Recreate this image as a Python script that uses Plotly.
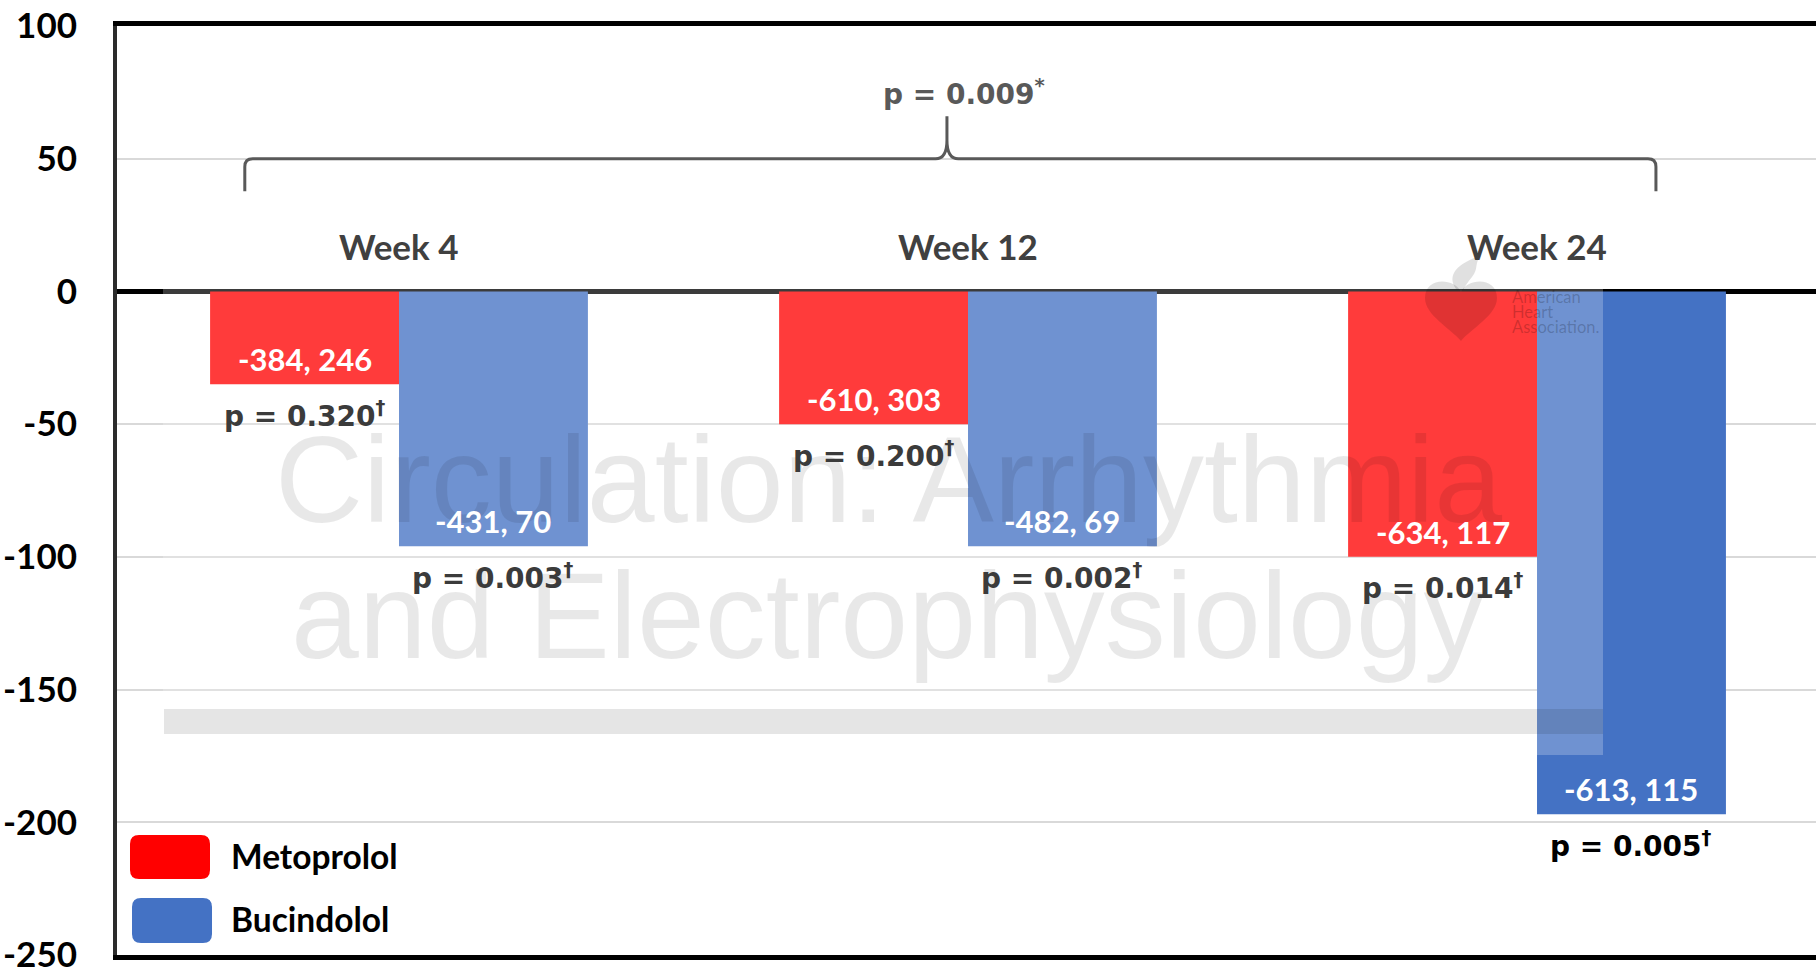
import plotly.graph_objects as go

# ---- data -------------------------------------------------------------
weeks = ["Week 4", "Week 12", "Week 24"]
week_pos = [0, 1, 2]
metoprolol = [-35, -50, -100]
bucindolol = [-96, -96, -197]
metoprolol_text = ["-384, 246", "-610, 303", "-634, 117"]
bucindolol_text = ["-431, 70", "-482, 69", "-613, 115"]
metoprolol_p = ["0.320", "0.200", "0.014"]
bucindolol_p = ["0.003", "0.002", "0.005"]
overall_p = "0.009"
y_ticks = [100, 50, 0, -50, -100, -150, -200, -250]

# ---- style ------------------------------------------------------------
RED = "#FF0000"
BLUE = "#4472C4"
BAR_W = 0.332
W, H = 1816, 974
L, R, T, B = 117, 0, 26, 19
LABEL_FONT = "Lato"
P_FONT = "DejaVu Sans"
WM_FONT = "Liberation Sans"


def to_paper(x, y):
    """pixel position on the page -> paper coordinates of the plot area"""
    return (x - L) / (W - L - R), (H - B - y) / (H - T - B)


def paper_path(cmds):
    """build an SVG path in paper units from pixel-space commands"""
    out = []
    for c, pts in cmds:
        seg = c
        for (x, y) in pts:
            px_, py_ = to_paper(x, y)
            seg += f" {px_:.5f},{py_:.5f}"
        out.append(seg)
    return " ".join(out) + " Z"


def rounded_rect(x0, y0, x1, y1, r):
    return paper_path([
        ("M", [(x0 + r, y0)]), ("L", [(x1 - r, y0)]), ("Q", [(x1, y0), (x1, y0 + r)]),
        ("L", [(x1, y1 - r)]), ("Q", [(x1, y1), (x1 - r, y1)]),
        ("L", [(x0 + r, y1)]), ("Q", [(x0, y1), (x0, y1 - r)]),
        ("L", [(x0, y0 + r)]), ("Q", [(x0, y0), (x0 + r, y0)]),
    ])


fig = go.Figure()
fig.add_trace(go.Bar(x=week_pos, y=metoprolol, width=BAR_W, offset=-BAR_W,
                     marker=dict(color=RED, line=dict(width=0)), name="Metoprolol",
                     showlegend=False, hoverinfo="skip"))
fig.add_trace(go.Bar(x=week_pos, y=bucindolol, width=BAR_W, offset=0,
                     marker=dict(color=BLUE, line=dict(width=0)), name="Bucindolol",
                     showlegend=False, hoverinfo="skip"))

ann = []
# journal watermark text
wx, _ = to_paper(888, 0)
ann.append(dict(x=wx, y=to_paper(0, 480)[1], xref="paper", yref="paper",
                text="Circulation: Arrhythmia", showarrow=False, xanchor="center",
                yanchor="middle", font=dict(family=WM_FONT, size=122, color="rgba(0,0,0,0.09)")))
ann.append(dict(x=wx, y=to_paper(0, 616)[1], xref="paper", yref="paper",
                text="and Electrophysiology", showarrow=False, xanchor="center",
                yanchor="middle", font=dict(family=WM_FONT, size=122, color="rgba(0,0,0,0.09)")))
# association logo wording
for i, word in enumerate(["American", "Heart", "Association."]):
    ax_, ay_ = to_paper(1510, 297 + 15 * i)
    ann.append(dict(x=ax_, y=ay_, xref="paper", yref="paper", text=word, showarrow=False,
                    xanchor="left", yanchor="middle",
                    font=dict(family=LABEL_FONT, size=16.5, color="rgba(0,0,0,0.2)")))

# week headings above the zero line
for xp, wk in zip(week_pos, weeks):
    ann.append(dict(x=xp, y=0, xref="x", yref="y", text=f"<b>{wk}</b>", showarrow=False,
                    xanchor="center", yanchor="middle", yshift=45,
                    font=dict(family=LABEL_FONT, size=35, color="#404040")))

# bar values and p-values
series = [
    (metoprolol, metoprolol_text, metoprolol_p, -BAR_W / 2),
    (bucindolol, bucindolol_text, bucindolol_p, BAR_W / 2),
]
for vals, texts, ps, off in series:
    for i, (xp, v) in enumerate(zip(week_pos, vals)):
        ann.append(dict(x=xp + off, y=v, xref="x", yref="y", text=f"<b>{texts[i]}</b>",
                        showarrow=False, xanchor="center", yanchor="middle", yshift=25,
                        font=dict(family=LABEL_FONT, size=31, color="white")))
        pcolor = "#000000" if v < -150 else "#3b3b3b"
        ann.append(dict(x=xp + off, y=v, xref="x", yref="y",
                        text=f"<b>p = {ps[i]}<sup>†</sup></b>",
                        showarrow=False, xanchor="center", yanchor="middle", yshift=-30,
                        font=dict(family=P_FONT, size=28, color=pcolor)))

# overall comparison
ann.append(dict(x=0.993, y=75, xref="x", yref="y", text=f"<b>p = {overall_p}<sup>*</sup></b>",
                showarrow=False, xanchor="center", yanchor="middle",
                font=dict(family=P_FONT, size=28, color="#595959")))

# legend
for label, ypix in [("Metoprolol", 856), ("Bucindolol", 919)]:
    lx, ly = to_paper(229, ypix)
    ann.append(dict(x=lx, y=ly, xref="paper", yref="paper", text=f"<b>{label}</b>",
                    showarrow=False, xanchor="left", yanchor="middle",
                    font=dict(family=LABEL_FONT, size=33.5, color="black")))

shapes = []
# white veil of the watermark layer and its grey rule
ox0, oy0 = to_paper(163, 755)
ox1, oy1 = to_paper(1603, 205)
shapes.append(dict(type="rect", xref="paper", yref="paper", x0=ox0, x1=ox1, y0=oy0, y1=oy1,
                   fillcolor="rgba(255,255,255,0.23)", line=dict(width=0), layer="above"))
bx0, by0 = to_paper(164, 734)
bx1, by1 = to_paper(1603, 709)
shapes.append(dict(type="rect", xref="paper", yref="paper", x0=bx0, x1=bx1, y0=by0, y1=by1,
                   fillcolor="rgba(0,0,0,0.10)", line=dict(width=0), layer="above"))
# heart and flame of the logo
shapes.append(dict(type="path", xref="paper", yref="paper", layer="above",
                   path=paper_path([
                       ("M", [(1461, 292)]),
                       ("C", [(1455, 278), (1425, 276), (1425, 298)]),
                       ("C", [(1425, 315), (1450, 328), (1461, 341)]),
                       ("C", [(1472, 328), (1497, 315), (1497, 298)]),
                       ("C", [(1497, 276), (1467, 278), (1461, 292)]),
                   ]), fillcolor="rgba(0,0,0,0.12)", line=dict(width=0)))
shapes.append(dict(type="path", xref="paper", yref="paper", layer="above",
                   path=paper_path([
                       ("M", [(1456, 289)]),
                       ("C", [(1447, 276), (1457, 267), (1466, 262)]),
                       ("C", [(1471, 259), (1476, 257), (1481, 256)]),
                       ("C", [(1474, 263), (1479, 269), (1472, 277)]),
                       ("C", [(1468, 282), (1465, 286), (1463, 290)]),
                   ]), fillcolor="rgba(0,0,0,0.12)", line=dict(width=0)))

# bracket spanning the three visits
xl, xc, xr = -0.271, 0.963, 2.209
y_line, y_end, y_peak = 50, 37.7, 66
bracket = (f"M {xl},{y_end} L {xl},{y_line - 3} Q {xl},{y_line} {xl + 0.014},{y_line} "
           f"L {xc - 0.02},{y_line} Q {xc},{y_line} {xc},{y_line + 7} L {xc},{y_peak} "
           f"M {xc},{y_peak} L {xc},{y_line + 7} Q {xc},{y_line} {xc + 0.02},{y_line} "
           f"L {xr - 0.014},{y_line} Q {xr},{y_line} {xr},{y_line - 3} L {xr},{y_end}")
shapes.append(dict(type="path", xref="x", yref="y", path=bracket,
                   line=dict(color="#595959", width=3), fillcolor="rgba(0,0,0,0)", layer="above"))

# legend swatches
shapes.append(dict(type="path", xref="paper", yref="paper", path=rounded_rect(130, 835, 210, 879, 9),
                   fillcolor=RED, line=dict(width=0), layer="above"))
shapes.append(dict(type="path", xref="paper", yref="paper", path=rounded_rect(132, 898, 212, 943, 9),
                   fillcolor=BLUE, line=dict(width=0), layer="above"))

fig.update_layout(
    width=W, height=H, autosize=False,
    margin=dict(l=L, r=R, t=T, b=B, pad=0),
    paper_bgcolor="white", plot_bgcolor="white",
    showlegend=False,
    annotations=ann, shapes=shapes,
    xaxis=dict(range=[-0.4956, 2.4903], showticklabels=False, showgrid=False, zeroline=False,
               showline=True, mirror=True, linecolor="black", linewidth=5, ticks=""),
    yaxis=dict(range=[-250, 100], tickvals=y_ticks, ticktext=[str(v) for v in y_ticks],
               tickfont=dict(family=LABEL_FONT, size=35, color="black", weight="bold"),
               ticklabeloverflow="allow",
               showgrid=True, gridcolor="#d9d9d9", gridwidth=1.5,
               zeroline=True, zerolinecolor="black", zerolinewidth=5,
               showline=True, linecolor="#2b2b2b", linewidth=4, ticks="",
               ticklabelstandoff=29),
)

fig.write_html("out.html")
